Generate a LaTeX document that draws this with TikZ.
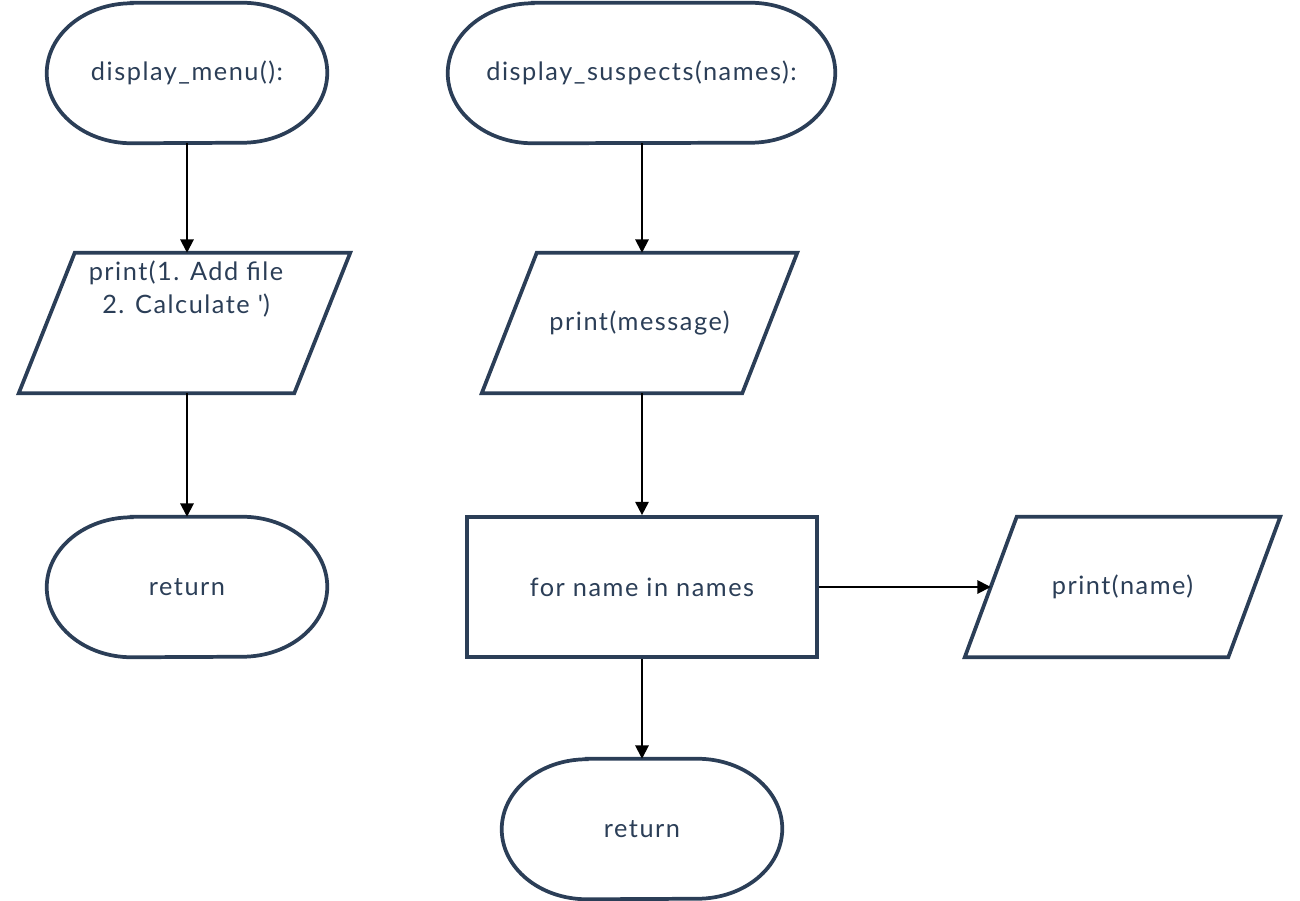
\documentclass[tikz,border=0pt]{standalone}
\usepackage{fontspec}
\setmainfont{Lato}[LetterSpace=6]
\usetikzlibrary{arrows.meta}
\definecolor{ink}{HTML}{2B3E57}
\newcommand\stadiumshape[1]{\draw[shp] ([xshift=63.75pt]#1.north west) -- ([xshift=-63.75pt]#1.north east) arc[start angle=90,end angle=-90,x radius=63.75pt,y radius=52.5pt] -- ([xshift=63.75pt]#1.south west) arc[start angle=270,end angle=90,x radius=63.75pt,y radius=52.5pt] -- cycle;}
\newcommand\parashape[2]{\draw[shp] ([xshift=#2]#1.north west) -- (#1.north east) -- ([xshift=-#2]#1.south east) -- (#1.south west) -- cycle;}
\begin{document}
\begin{tikzpicture}[x=0.75pt,y=-0.75pt,
  shp/.style={draw=ink,line width=2.8pt,line join=miter},
  txt/.style={text=ink,font=\fontsize{19}{24.75}\selectfont,align=center},
  term/.style={txt,inner sep=0pt,minimum height=105pt},
  para/.style={txt,rectangle,inner sep=0pt,minimum height=105pt},
  boxn/.style={txt,shp,rectangle,inner sep=0pt,minimum width=262.5pt,minimum height=105pt},
  arr/.style={draw=black,line width=1.5pt,-{Triangle[length=10pt,width=10pt]}}]
\useasboundingbox (0,0) rectangle (1300,900);
% left column
\node[term,minimum width=210pt] (m1) at (187,73) {display\_menu():};
\node[para,minimum width=248.25pt] (p1) at (184.5,323) {};
\node[txt,anchor=north] (p1t) at (186,256) {print(1. Add file\\ 2. Calculate \textquotesingle)};
\node[term,minimum width=210pt] (r1) at (187,587) {return};
% right column
\node[term,minimum width=290.25pt] (m2) at (641.5,73) {display\_suspects(names):};
\node[para,minimum width=236.25pt] (p2) at (639.5,323) {print(message)};
\node[boxn] (f) at (642,587) {for name in names};
\node[para,minimum width=236.25pt] (p3) at (1122.5,587) {print(name)};
\coordinate (p3in) at ([xshift=19.5pt]p3.west);
\node[term,minimum width=210pt] (r2) at (642,829) {return};
\stadiumshape{m1}
\stadiumshape{r1}
\stadiumshape{m2}
\stadiumshape{r2}
\parashape{p1}{42pt}
\parashape{p2}{41.25pt}
\parashape{p3}{39pt}
% connectors
\draw[arr] (m1.south) -- (m1.south |- p1.north);
\draw[arr] (m1.south |- p1.south) -- (r1.north);
\draw[arr] (f.north |- m2.south) -- (f.north |- p2.north);
\draw[arr] (f.north |- p2.south) -- (f.north);
\draw[arr] (f.south) -- (r2.north);
\draw[arr] (f.east) -- (p3in);
\end{tikzpicture}
\end{document}
